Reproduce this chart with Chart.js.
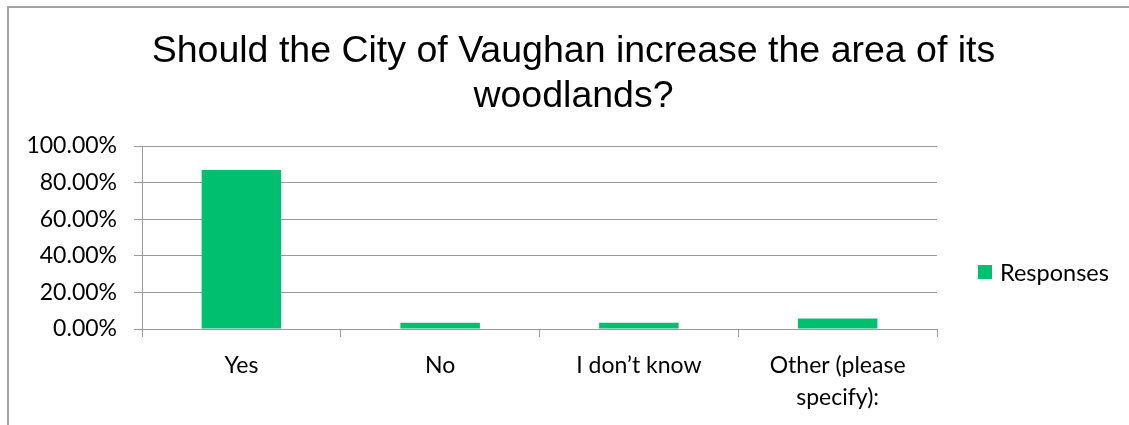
<!DOCTYPE html>
<html>
<head>
<meta charset="utf-8">
<script src="https://cdn.jsdelivr.net/npm/chart.js@4/dist/chart.umd.min.js"></script>
<style>
  html, body { margin: 0; padding: 0; background: #fff; overflow: hidden; }
  #frame { position: absolute; left: 7px; top: 6px; width: 1200px; height: 500px;
           border-left: 2px solid #a3a3a3; border-top: 2px solid #a3a3a3; }
  #wrap { position: absolute; left: 0; top: 0; width: 1129px; height: 425px; }
  #legend { position: absolute; left: 978px; top: 258px; font: 23.5px Lato, sans-serif; color: #000;
            display: flex; align-items: center; }
  #legend span.box { display: inline-block; width: 14px; height: 14px; margin-right: 8px; }
</style>
</head>
<body>
<div id="frame"></div>
<div id="wrap"><canvas id="chart" width="1129" height="425"></canvas></div>
<div id="legend"></div>
<script>
var categories = ['Yes', 'No', 'I don\u2019t know', ['Other (please', 'specify):']];
var responses = [86.9, 3.4, 3.4, 5.7];
var yTicks = [0, 20, 40, 60, 80, 100];
var seriesName = 'Responses';
var green = '#00bf6f';

var chart = new Chart(document.getElementById('chart'), {
  type: 'bar',
  data: {
    labels: categories,
    datasets: [{ label: seriesName, data: responses, backgroundColor: green,
                 borderWidth: 0, categoryPercentage: 1, barPercentage: 0.4 }]
  },
  options: {
    responsive: false,
    animation: false,
    layout: { padding: { left: 18, right: 0, top: 0, bottom: 0 } },
    plugins: {
      legend: { display: false },
      tooltip: { enabled: false },
      title: {
        display: true,
        text: ['Should the City of Vaughan increase the area of its', 'woodlands?'],
        color: '#000',
        font: { family: 'Liberation Sans', size: 37.5, weight: 'normal', lineHeight: 1.2 },
        padding: { top: 29, bottom: 27 }
      }
    },
    scales: {
      x: {
        grid: { drawOnChartArea: false, drawTicks: true, tickLength: 8, color: '#9a9a9a' },
        border: { color: '#9a9a9a' },
        ticks: { color: '#000', padding: 12, maxRotation: 0, autoSkip: false,
                 font: { family: 'Lato', size: 23, lineHeight: 1.42 } },
        afterFit: function (s) { s.height = 96; }
      },
      y: {
        min: 0, max: 100,
        afterBuildTicks: function (s) { s.ticks = yTicks.map(function (v) { return { value: v }; }); },
        grid: { color: '#9a9a9a', tickLength: 8 },
        border: { color: '#9a9a9a' },
        ticks: { color: '#000', padding: 17, font: { family: 'Lato', size: 23 },
                 callback: function (v) { return v.toFixed(2) + '%'; } },
        afterFit: function (s) { s.width = 124; }
      },
      // empty right column that keeps room for the legend
      side: {
        position: 'right', min: 0, max: 1,
        grid: { display: false }, border: { display: false }, ticks: { display: false },
        afterFit: function (s) { s.width = 192; }
      }
    }
  }
});

chart.data.datasets.forEach(function (ds) {
  document.getElementById('legend').innerHTML =
    '<span class="box" style="background:' + ds.backgroundColor + '"></span>' + ds.label;
});
</script>
</body>
</html>
